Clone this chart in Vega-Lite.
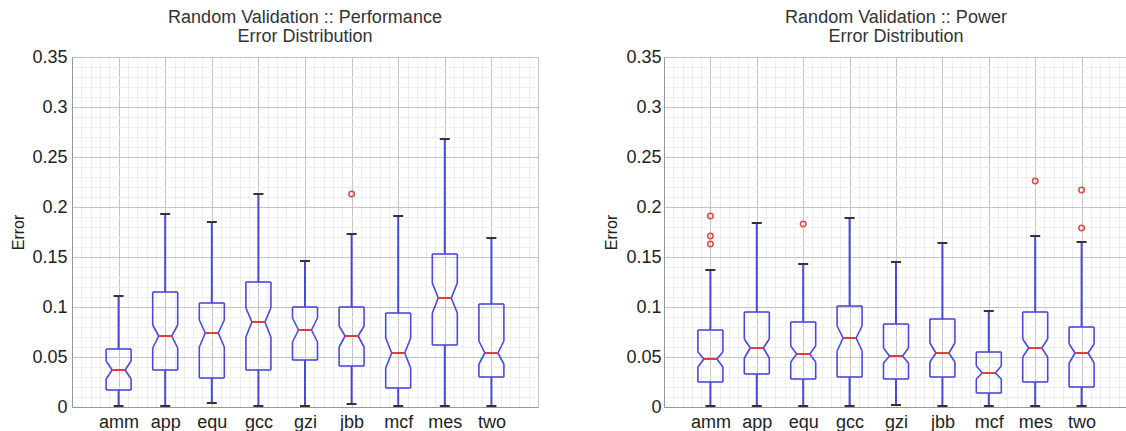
{
  "$schema": "https://vega.github.io/schema/vega-lite/v6.json",
  "padding": {"left": 10, "top": 8, "right": 0, "bottom": 0},
  "background": "white",
  "config": {
    "font": "Liberation Sans",
    "view": {"stroke": "#aaaaaa", "strokeWidth": 1},
    "title": {"font": "Liberation Sans", "fontSize": 18, "fontWeight": "normal", "color": "#333333", "lineHeight": 19.5, "offset": 2, "frame": "group", "anchor": "middle"}
  },
  "datasets": {
    "perf": [
      {"cat": "amm", "wlo": 0.001, "q1": 0.017, "nlo": 0.028, "med": 0.037, "nhi": 0.046, "q3": 0.058, "whi": 0.111},
      {"cat": "app", "wlo": 0.001, "q1": 0.037, "nlo": 0.059, "med": 0.071, "nhi": 0.082, "q3": 0.115, "whi": 0.193},
      {"cat": "equ", "wlo": 0.004, "q1": 0.029, "nlo": 0.060, "med": 0.074, "nhi": 0.087, "q3": 0.104, "whi": 0.185},
      {"cat": "gcc", "wlo": 0.001, "q1": 0.037, "nlo": 0.070, "med": 0.085, "nhi": 0.099, "q3": 0.125, "whi": 0.213},
      {"cat": "gzi", "wlo": 0.001, "q1": 0.047, "nlo": 0.065, "med": 0.077, "nhi": 0.089, "q3": 0.100, "whi": 0.146},
      {"cat": "jbb", "wlo": 0.003, "q1": 0.041, "nlo": 0.060, "med": 0.071, "nhi": 0.081, "q3": 0.100, "whi": 0.173},
      {"cat": "mcf", "wlo": 0.001, "q1": 0.019, "nlo": 0.039, "med": 0.054, "nhi": 0.069, "q3": 0.094, "whi": 0.191},
      {"cat": "mes", "wlo": 0.001, "q1": 0.062, "nlo": 0.094, "med": 0.109, "nhi": 0.124, "q3": 0.153, "whi": 0.268},
      {"cat": "two", "wlo": 0.001, "q1": 0.030, "nlo": 0.043, "med": 0.054, "nhi": 0.066, "q3": 0.103, "whi": 0.169}
    ],
    "perfOut": [
      {"cat": "jbb", "v": 0.213}
    ],
    "pow": [
      {"cat": "amm", "wlo": 0.001, "q1": 0.025, "nlo": 0.040, "med": 0.048, "nhi": 0.055, "q3": 0.077, "whi": 0.137},
      {"cat": "app", "wlo": 0.001, "q1": 0.033, "nlo": 0.049, "med": 0.059, "nhi": 0.068, "q3": 0.095, "whi": 0.184},
      {"cat": "equ", "wlo": 0.001, "q1": 0.028, "nlo": 0.045, "med": 0.053, "nhi": 0.061, "q3": 0.085, "whi": 0.143},
      {"cat": "gcc", "wlo": 0.001, "q1": 0.030, "nlo": 0.056, "med": 0.069, "nhi": 0.081, "q3": 0.101, "whi": 0.189},
      {"cat": "gzi", "wlo": 0.002, "q1": 0.028, "nlo": 0.044, "med": 0.051, "nhi": 0.059, "q3": 0.083, "whi": 0.145},
      {"cat": "jbb", "wlo": 0.001, "q1": 0.030, "nlo": 0.045, "med": 0.054, "nhi": 0.064, "q3": 0.088, "whi": 0.164},
      {"cat": "mcf", "wlo": 0.001, "q1": 0.014, "nlo": 0.028, "med": 0.034, "nhi": 0.041, "q3": 0.055, "whi": 0.096},
      {"cat": "mes", "wlo": 0.001, "q1": 0.025, "nlo": 0.050, "med": 0.059, "nhi": 0.068, "q3": 0.095, "whi": 0.171},
      {"cat": "two", "wlo": 0.001, "q1": 0.020, "nlo": 0.044, "med": 0.054, "nhi": 0.063, "q3": 0.080, "whi": 0.165}
    ],
    "powOut": [
      {"cat": "amm", "v": 0.191},
      {"cat": "amm", "v": 0.171},
      {"cat": "amm", "v": 0.163},
      {"cat": "equ", "v": 0.183},
      {"cat": "mes", "v": 0.226},
      {"cat": "two", "v": 0.217},
      {"cat": "two", "v": 0.179}
    ]
  },
  "spacing": 64,
  "hconcat": [
    {
      "width": 466,
      "height": 350,
      "title": {"text": ["Random Validation :: Performance", "Error Distribution"]},
      "resolve": {"scale": {"x": "independent"}, "axis": {"x": "independent", "y": "independent"}},
      "layer": [
        {
          "data": {"values": [{}]},
          "mark": {"type": "point", "opacity": 0},
          "encoding": {
            "x": {"datum": 0, "type": "quantitative", "scale": {"domain": [0, 10], "nice": false, "zero": false},
              "axis": {"orient": "top", "values": [0,0.2,0.4,0.6,0.8,1,1.2,1.4,1.6,1.8,2,2.2,2.4,2.6,2.8,3,3.2,3.4,3.6,3.8,4,4.2,4.4,4.6,4.8,5,5.2,5.4,5.6,5.8,6,6.2,6.4,6.6,6.8,7,7.2,7.4,7.6,7.8,8,8.2,8.4,8.6,8.8,9,9.2,9.4,9.6,9.8,10],
                "grid": true, "gridColor": {"condition": {"test": "abs(datum.value - round(datum.value)) < 0.01", "value": "#c4c4c4"}, "value": "#eeeeee"},
                "labels": false, "ticks": false, "domain": false, "title": null}},
            "y": {"datum": 0, "type": "quantitative", "scale": {"domain": [0, 0.35], "nice": false},
              "axis": {"orient": "left", "values": [0,0.01,0.02,0.03,0.04,0.05,0.06,0.07,0.08,0.09,0.1,0.11,0.12,0.13,0.14,0.15,0.16,0.17,0.18,0.19,0.2,0.21,0.22,0.23,0.24,0.25,0.26,0.27,0.28,0.29,0.3,0.31,0.32,0.33,0.34,0.35],
                "grid": true, "gridColor": {"condition": {"test": "abs(datum.value*20 - round(datum.value*20)) < 0.001", "value": "#c4c4c4"}, "value": "#eeeeee"},
                "labelExpr": "abs(datum.value*20 - round(datum.value*20)) < 0.001 ? format(datum.value, '~g') : ''",
                "labelOverlap": false, "labelFontSize": 18, "labelColor": "#222222", "labelPadding": 5,
                "ticks": false, "domainColor": "#999999",
                "title": "Error", "titleFontSize": 16, "titleFontWeight": "normal", "titleColor": "#222222", "titlePadding": 5}}
          }
        },
        {
          "data": {"name": "perf"},
          "encoding": {
            "x": {"field": "cat", "type": "nominal",
              "scale": {"type": "point", "padding": 1, "domain": ["amm","app","equ","gcc","gzi","jbb","mcf","mes","two"]},
              "axis": {"orient": "bottom", "title": null, "labelAngle": 0, "labelFontSize": 18, "labelColor": "#222222", "labelPadding": 6, "ticks": false, "domainColor": "#999999", "grid": false}}
          },
          "layer": [
            {"mark": {"type": "rule", "color": "#4a4ad8", "strokeWidth": 2}, "encoding": {"y": {"field": "wlo", "type": "quantitative", "axis": null}, "y2": {"field": "q1"}}},
            {"mark": {"type": "rule", "color": "#4a4ad8", "strokeWidth": 2}, "encoding": {"y": {"field": "q3", "type": "quantitative", "axis": null}, "y2": {"field": "whi"}}},
            {"mark": {"type": "rule", "color": "#333333", "strokeWidth": 2, "xOffset": -5, "x2Offset": 5}, "encoding": {"x2": {"field": "cat"}, "y": {"field": "wlo", "type": "quantitative", "axis": null}}},
            {"mark": {"type": "rule", "color": "#333333", "strokeWidth": 2, "xOffset": -5, "x2Offset": 5}, "encoding": {"x2": {"field": "cat"}, "y": {"field": "whi", "type": "quantitative", "axis": null}}},
            {"mark": {"type": "rule", "color": "#4a4ad8", "strokeWidth": 1.6, "xOffset": -12.5, "x2Offset": 12.5}, "encoding": {"x2": {"field": "cat"}, "y": {"field": "q1", "type": "quantitative", "axis": null}}},
            {"mark": {"type": "rule", "color": "#4a4ad8", "strokeWidth": 1.6, "xOffset": -12.5, "x2Offset": 12.5}, "encoding": {"x2": {"field": "cat"}, "y": {"field": "q3", "type": "quantitative", "axis": null}}},
            {"mark": {"type": "rule", "color": "#4a4ad8", "strokeWidth": 1.6, "xOffset": -12.5}, "encoding": {"y": {"field": "q1", "type": "quantitative", "axis": null}, "y2": {"field": "nlo"}}},
            {"mark": {"type": "rule", "color": "#4a4ad8", "strokeWidth": 1.6, "xOffset": -12.5}, "encoding": {"y": {"field": "nhi", "type": "quantitative", "axis": null}, "y2": {"field": "q3"}}},
            {"mark": {"type": "rule", "color": "#4a4ad8", "strokeWidth": 1.6, "xOffset": 12.5}, "encoding": {"y": {"field": "q1", "type": "quantitative", "axis": null}, "y2": {"field": "nlo"}}},
            {"mark": {"type": "rule", "color": "#4a4ad8", "strokeWidth": 1.6, "xOffset": 12.5}, "encoding": {"y": {"field": "nhi", "type": "quantitative", "axis": null}, "y2": {"field": "q3"}}},
            {"mark": {"type": "rule", "color": "#4a4ad8", "strokeWidth": 1.6, "xOffset": -12.5, "x2Offset": -6.5}, "encoding": {"x2": {"field": "cat"}, "y": {"field": "nlo", "type": "quantitative", "axis": null}, "y2": {"field": "med"}}},
            {"mark": {"type": "rule", "color": "#4a4ad8", "strokeWidth": 1.6, "xOffset": -12.5, "x2Offset": -6.5}, "encoding": {"x2": {"field": "cat"}, "y": {"field": "nhi", "type": "quantitative", "axis": null}, "y2": {"field": "med"}}},
            {"mark": {"type": "rule", "color": "#4a4ad8", "strokeWidth": 1.6, "xOffset": 12.5, "x2Offset": 6.5}, "encoding": {"x2": {"field": "cat"}, "y": {"field": "nlo", "type": "quantitative", "axis": null}, "y2": {"field": "med"}}},
            {"mark": {"type": "rule", "color": "#4a4ad8", "strokeWidth": 1.6, "xOffset": 12.5, "x2Offset": 6.5}, "encoding": {"x2": {"field": "cat"}, "y": {"field": "nhi", "type": "quantitative", "axis": null}, "y2": {"field": "med"}}},
            {"mark": {"type": "rule", "color": "#e23c3c", "strokeWidth": 2, "xOffset": -6.5, "x2Offset": 6.5}, "encoding": {"x2": {"field": "cat"}, "y": {"field": "med", "type": "quantitative", "axis": null}}},
            {"data": {"name": "perfOut"}, "mark": {"type": "point", "shape": "circle", "filled": false, "color": "#e04848", "size": 30, "strokeWidth": 1.5, "opacity": 1}, "encoding": {"y": {"field": "v", "type": "quantitative", "axis": null}}}
          ]
        }
      ]
    },
    {
      "width": 464,
      "height": 350,
      "title": {"text": ["Random Validation :: Power", "Error Distribution"]},
      "resolve": {"scale": {"x": "independent"}, "axis": {"x": "independent", "y": "independent"}},
      "layer": [
        {
          "data": {"values": [{}]},
          "mark": {"type": "point", "opacity": 0},
          "encoding": {
            "x": {"datum": 0, "type": "quantitative", "scale": {"domain": [0, 10], "nice": false, "zero": false},
              "axis": {"orient": "top", "values": [0,0.2,0.4,0.6,0.8,1,1.2,1.4,1.6,1.8,2,2.2,2.4,2.6,2.8,3,3.2,3.4,3.6,3.8,4,4.2,4.4,4.6,4.8,5,5.2,5.4,5.6,5.8,6,6.2,6.4,6.6,6.8,7,7.2,7.4,7.6,7.8,8,8.2,8.4,8.6,8.8,9,9.2,9.4,9.6,9.8,10],
                "grid": true, "gridColor": {"condition": {"test": "abs(datum.value - round(datum.value)) < 0.01", "value": "#c4c4c4"}, "value": "#eeeeee"},
                "labels": false, "ticks": false, "domain": false, "title": null}},
            "y": {"datum": 0, "type": "quantitative", "scale": {"domain": [0, 0.35], "nice": false},
              "axis": {"orient": "left", "values": [0,0.01,0.02,0.03,0.04,0.05,0.06,0.07,0.08,0.09,0.1,0.11,0.12,0.13,0.14,0.15,0.16,0.17,0.18,0.19,0.2,0.21,0.22,0.23,0.24,0.25,0.26,0.27,0.28,0.29,0.3,0.31,0.32,0.33,0.34,0.35],
                "grid": true, "gridColor": {"condition": {"test": "abs(datum.value*20 - round(datum.value*20)) < 0.001", "value": "#c4c4c4"}, "value": "#eeeeee"},
                "labelExpr": "abs(datum.value*20 - round(datum.value*20)) < 0.001 ? format(datum.value, '~g') : ''",
                "labelOverlap": false, "labelFontSize": 18, "labelColor": "#222222", "labelPadding": 3,
                "ticks": false, "domainColor": "#999999",
                "title": "Error", "titleFontSize": 16, "titleFontWeight": "normal", "titleColor": "#222222", "titlePadding": 6}}
          }
        },
        {
          "data": {"name": "pow"},
          "encoding": {
            "x": {"field": "cat", "type": "nominal",
              "scale": {"type": "point", "padding": 1, "domain": ["amm","app","equ","gcc","gzi","jbb","mcf","mes","two"]},
              "axis": {"orient": "bottom", "title": null, "labelAngle": 0, "labelFontSize": 18, "labelColor": "#222222", "labelPadding": 6, "ticks": false, "domainColor": "#999999", "grid": false}}
          },
          "layer": [
            {"mark": {"type": "rule", "color": "#4a4ad8", "strokeWidth": 2}, "encoding": {"y": {"field": "wlo", "type": "quantitative", "axis": null}, "y2": {"field": "q1"}}},
            {"mark": {"type": "rule", "color": "#4a4ad8", "strokeWidth": 2}, "encoding": {"y": {"field": "q3", "type": "quantitative", "axis": null}, "y2": {"field": "whi"}}},
            {"mark": {"type": "rule", "color": "#333333", "strokeWidth": 2, "xOffset": -5, "x2Offset": 5}, "encoding": {"x2": {"field": "cat"}, "y": {"field": "wlo", "type": "quantitative", "axis": null}}},
            {"mark": {"type": "rule", "color": "#333333", "strokeWidth": 2, "xOffset": -5, "x2Offset": 5}, "encoding": {"x2": {"field": "cat"}, "y": {"field": "whi", "type": "quantitative", "axis": null}}},
            {"mark": {"type": "rule", "color": "#4a4ad8", "strokeWidth": 1.6, "xOffset": -12.5, "x2Offset": 12.5}, "encoding": {"x2": {"field": "cat"}, "y": {"field": "q1", "type": "quantitative", "axis": null}}},
            {"mark": {"type": "rule", "color": "#4a4ad8", "strokeWidth": 1.6, "xOffset": -12.5, "x2Offset": 12.5}, "encoding": {"x2": {"field": "cat"}, "y": {"field": "q3", "type": "quantitative", "axis": null}}},
            {"mark": {"type": "rule", "color": "#4a4ad8", "strokeWidth": 1.6, "xOffset": -12.5}, "encoding": {"y": {"field": "q1", "type": "quantitative", "axis": null}, "y2": {"field": "nlo"}}},
            {"mark": {"type": "rule", "color": "#4a4ad8", "strokeWidth": 1.6, "xOffset": -12.5}, "encoding": {"y": {"field": "nhi", "type": "quantitative", "axis": null}, "y2": {"field": "q3"}}},
            {"mark": {"type": "rule", "color": "#4a4ad8", "strokeWidth": 1.6, "xOffset": 12.5}, "encoding": {"y": {"field": "q1", "type": "quantitative", "axis": null}, "y2": {"field": "nlo"}}},
            {"mark": {"type": "rule", "color": "#4a4ad8", "strokeWidth": 1.6, "xOffset": 12.5}, "encoding": {"y": {"field": "nhi", "type": "quantitative", "axis": null}, "y2": {"field": "q3"}}},
            {"mark": {"type": "rule", "color": "#4a4ad8", "strokeWidth": 1.6, "xOffset": -12.5, "x2Offset": -6.5}, "encoding": {"x2": {"field": "cat"}, "y": {"field": "nlo", "type": "quantitative", "axis": null}, "y2": {"field": "med"}}},
            {"mark": {"type": "rule", "color": "#4a4ad8", "strokeWidth": 1.6, "xOffset": -12.5, "x2Offset": -6.5}, "encoding": {"x2": {"field": "cat"}, "y": {"field": "nhi", "type": "quantitative", "axis": null}, "y2": {"field": "med"}}},
            {"mark": {"type": "rule", "color": "#4a4ad8", "strokeWidth": 1.6, "xOffset": 12.5, "x2Offset": 6.5}, "encoding": {"x2": {"field": "cat"}, "y": {"field": "nlo", "type": "quantitative", "axis": null}, "y2": {"field": "med"}}},
            {"mark": {"type": "rule", "color": "#4a4ad8", "strokeWidth": 1.6, "xOffset": 12.5, "x2Offset": 6.5}, "encoding": {"x2": {"field": "cat"}, "y": {"field": "nhi", "type": "quantitative", "axis": null}, "y2": {"field": "med"}}},
            {"mark": {"type": "rule", "color": "#e23c3c", "strokeWidth": 2, "xOffset": -6.5, "x2Offset": 6.5}, "encoding": {"x2": {"field": "cat"}, "y": {"field": "med", "type": "quantitative", "axis": null}}},
            {"data": {"name": "powOut"}, "mark": {"type": "point", "shape": "circle", "filled": false, "color": "#e04848", "size": 30, "strokeWidth": 1.5, "opacity": 1}, "encoding": {"y": {"field": "v", "type": "quantitative", "axis": null}}}
          ]
        }
      ]
    }
  ]
}
